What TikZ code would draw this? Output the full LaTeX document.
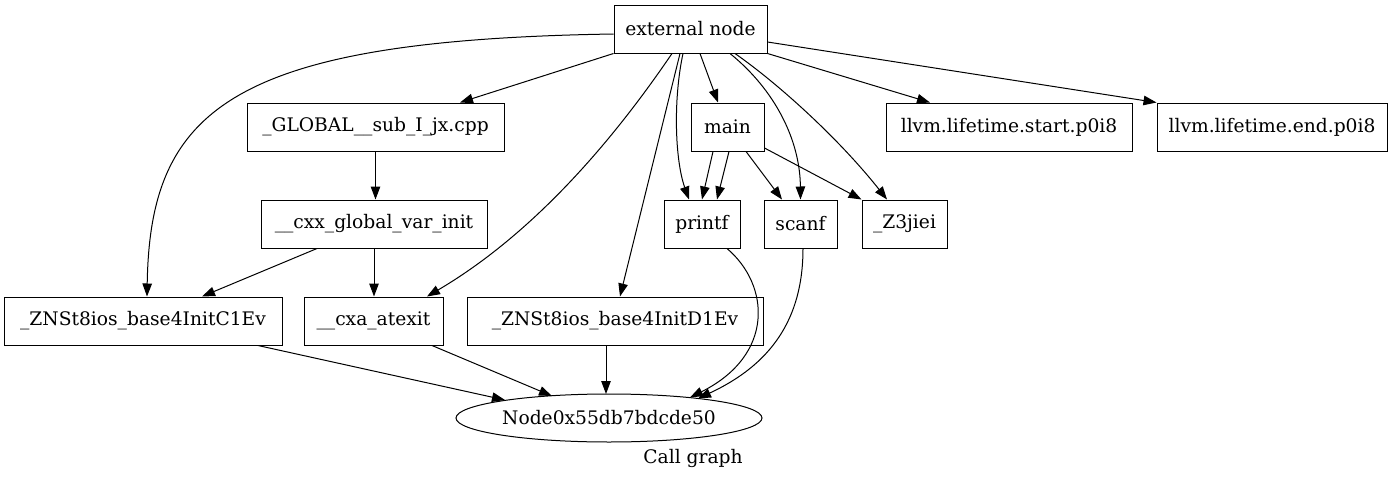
\documentclass[tikz,border=0pt]{standalone}
\usepackage{fontspec}
\setmainfont{DejaVu Serif}
\usetikzlibrary{arrows.meta,calc,shapes.geometric}
\tikzset{
  box/.style={draw, line width=1pt, rectangle, minimum height=48pt, inner sep=0pt, font=\fontsize{18.67pt}{22pt}\selectfont},
  ell/.style={draw, line width=1pt, ellipse, minimum width=306pt, minimum height=48pt, inner sep=0pt, font=\fontsize{18.67pt}{22pt}\selectfont},
  edge/.style={line width=1pt, -{Triangle[length=13pt,width=9.5pt]}},
}
\begin{document}
\begin{tikzpicture}[x=1pt,y=-1pt]
\useasboundingbox (0,0) rectangle (1393,479);
\node[box, minimum width=153pt] (ext) at (690.5,29) {external node};
\node[box, minimum width=257pt] (glob) at (375.5,127) {\_GLOBAL\_\_sub\_I\_jx.cpp};
\node[box, minimum width=73pt] (main) at (727.5,127) {main};
\node[box, minimum width=246pt] (lstart) at (1009,127) {llvm.lifetime.start.p0i8};
\node[box, minimum width=230pt] (lend) at (1272,127) {llvm.lifetime.end.p0i8};
\node[box, minimum width=226pt] (cxx) at (374,224) {\_\_cxx\_global\_var\_init};
\node[box, minimum width=76pt] (printf) at (702,224) {printf};
\node[box, minimum width=73pt] (scanf) at (800.5,224) {scanf};
\node[box, minimum width=85pt] (z3) at (904.5,224) {\_Z3jiei};
\node[box, minimum width=278pt] (c1) at (143,321) {\_ZNSt8ios\_base4InitC1Ev};
\node[box, minimum width=139pt] (atexit) at (373.5,321) {\_\_cxa\_atexit};
\node[box, minimum width=296pt] (d1) at (615,321) {\_ZNSt8ios\_base4InitD1Ev};
\node[ell] (nd) at (609,418) {Node0x55db7bdcde50};
\node[font=\fontsize{18.67pt}{22pt}\selectfont] (cap) at (693,458) {Call graph};

% external node edges
\draw[edge] (ext.south west) -- ($(glob.north)+(84.5,0)$);
\draw[edge] ($(ext.west)+(0,5)$) .. controls (230,40) and (150,110) .. ($(c1.north)+(4,0)$);
\draw[edge] ($(ext.south)+(-18.5,0)$) .. controls (620,130) and (540,230) .. ($(atexit.north)+(53.5,0)$);
\draw[edge] ($(ext.south)+(-10.5,0)$) -- ($(d1.north)+(5,0)$);
\draw[edge] ($(ext.south)+(-7.5,0)$) .. controls (673,100) and (675,160) .. ($(printf.north)+(-13,0)$);
\draw[edge] ($(ext.south)+(9.5,0)$) -- ($(main.north)+(-9.5,0)$);
\draw[edge] ($(ext.south)+(39.5,0)$) .. controls (775,90) and (800,140) .. (scanf.north);
\draw[edge] ($(ext.south)+(44.5,0)$) .. controls (780,85) and (840,140) .. ($(z3.north)+(-17.5,0)$);
\draw[edge] (ext.south east) -- ($(lstart.north)+(-79,0)$);
\draw[edge] ($(ext.east)+(0,13)$) -- (lend.north west);

% other edges
\draw[edge] (glob.south) -- (glob.south |- cxx.north);
\draw[edge] ($(cxx.south)+(-57,0)$) -- ($(c1.north)+(59,0)$);
\draw[edge] (cxx.south) -- (cxx.south |- atexit.north);
\draw[edge] ($(main.south)+(-14.5,0)$) -- (printf.north);
\draw[edge] ($(main.south)+(1.5,0)$) -- ($(printf.north)+(15,0)$);
\draw[edge] ($(main.south)+(18.5,0)$) -- ($(scanf.north)+(-18.5,0)$);
\draw[edge] ($(main.east)+(0,21)$) -- (z3.north west);

\draw[edge] ($(c1.south)+(115,0)$) -- ($(nd.center)+(-104,-18)$);
\draw[edge] ($(atexit.south)+(58.5,0)$) -- ($(nd.center)+(-57,-22)$);
\draw[edge] ($(d1.south)+(-9,0)$) -- ($(nd.center)+(-3,-24)$);
\draw[edge] ($(printf.south)+(25,0)$) .. controls (770,285) and (775,355) .. ($(nd.center)+(81,-20.5)$);
\draw[edge] ($(scanf.south)+(2.5,0)$) .. controls (803,320) and (770,365) .. ($(nd.center)+(89,-19.5)$);
\end{tikzpicture}
\end{document}
